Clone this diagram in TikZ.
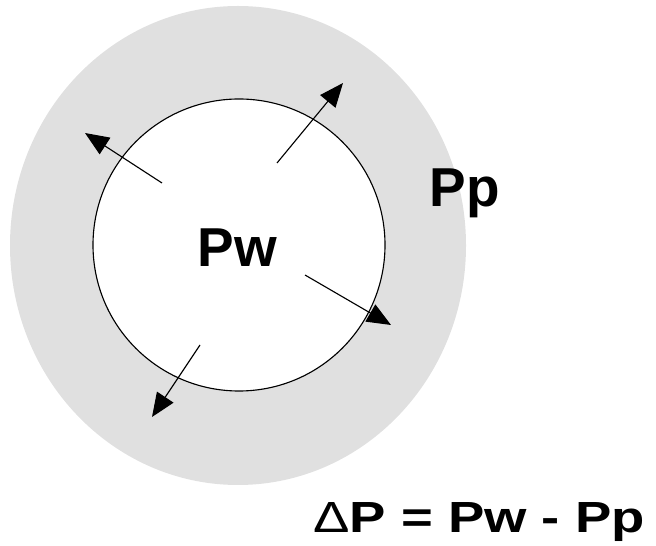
\documentclass[tikz,border=0pt]{standalone}
\usepackage{fontspec}
\setmainfont{Liberation Sans}
\usetikzlibrary{arrows.meta}
\definecolor{porefill}{RGB}{224,224,224}
\tikzset{
  flow/.style={line width=0.8pt, -{Triangle[length=17pt, width=14pt]}},
  lbl/.style={inner sep=0pt, anchor=base, font=\bfseries\fontsize{39}{39}\selectfont}
}
\begin{document}
\begin{tikzpicture}
\useasboundingbox (0,0) rectangle (16.4,13.625);
\fill[porefill] (5.95,7.4875) ellipse (5.7 and 5.9875);
\filldraw[fill=white, draw=black, line width=0.8pt] (5.975,7.5) circle (3.65);
\coordinate (t1) at (4.05,9.05);
\coordinate (h1) at (2.125,10.3);
\coordinate (t2) at (6.925,9.55);
\coordinate (h2) at (8.575,11.55);
\coordinate (t3) at (7.625,6.75);
\coordinate (h3) at (9.775,5.5);
\coordinate (t4) at (5.0,5.0);
\coordinate (h4) at (3.8,3.2);
\draw[flow] (t1) -- (h1);
\draw[flow] (t2) -- (h2);
\draw[flow] (t3) -- (h3);
\draw[flow] (t4) -- (h4);
\node[lbl] (pw) at (5.94,6.95) {Pw};
\node[lbl] (pp) at (11.625,8.45) {Pp};
\node[lbl, font=\bfseries\fontsize{31}{31}\selectfont, xscale=1.25] (dp) at (11.975,0.325) {{\mdseries Δ}P = Pw - Pp};
\end{tikzpicture}
\end{document}
